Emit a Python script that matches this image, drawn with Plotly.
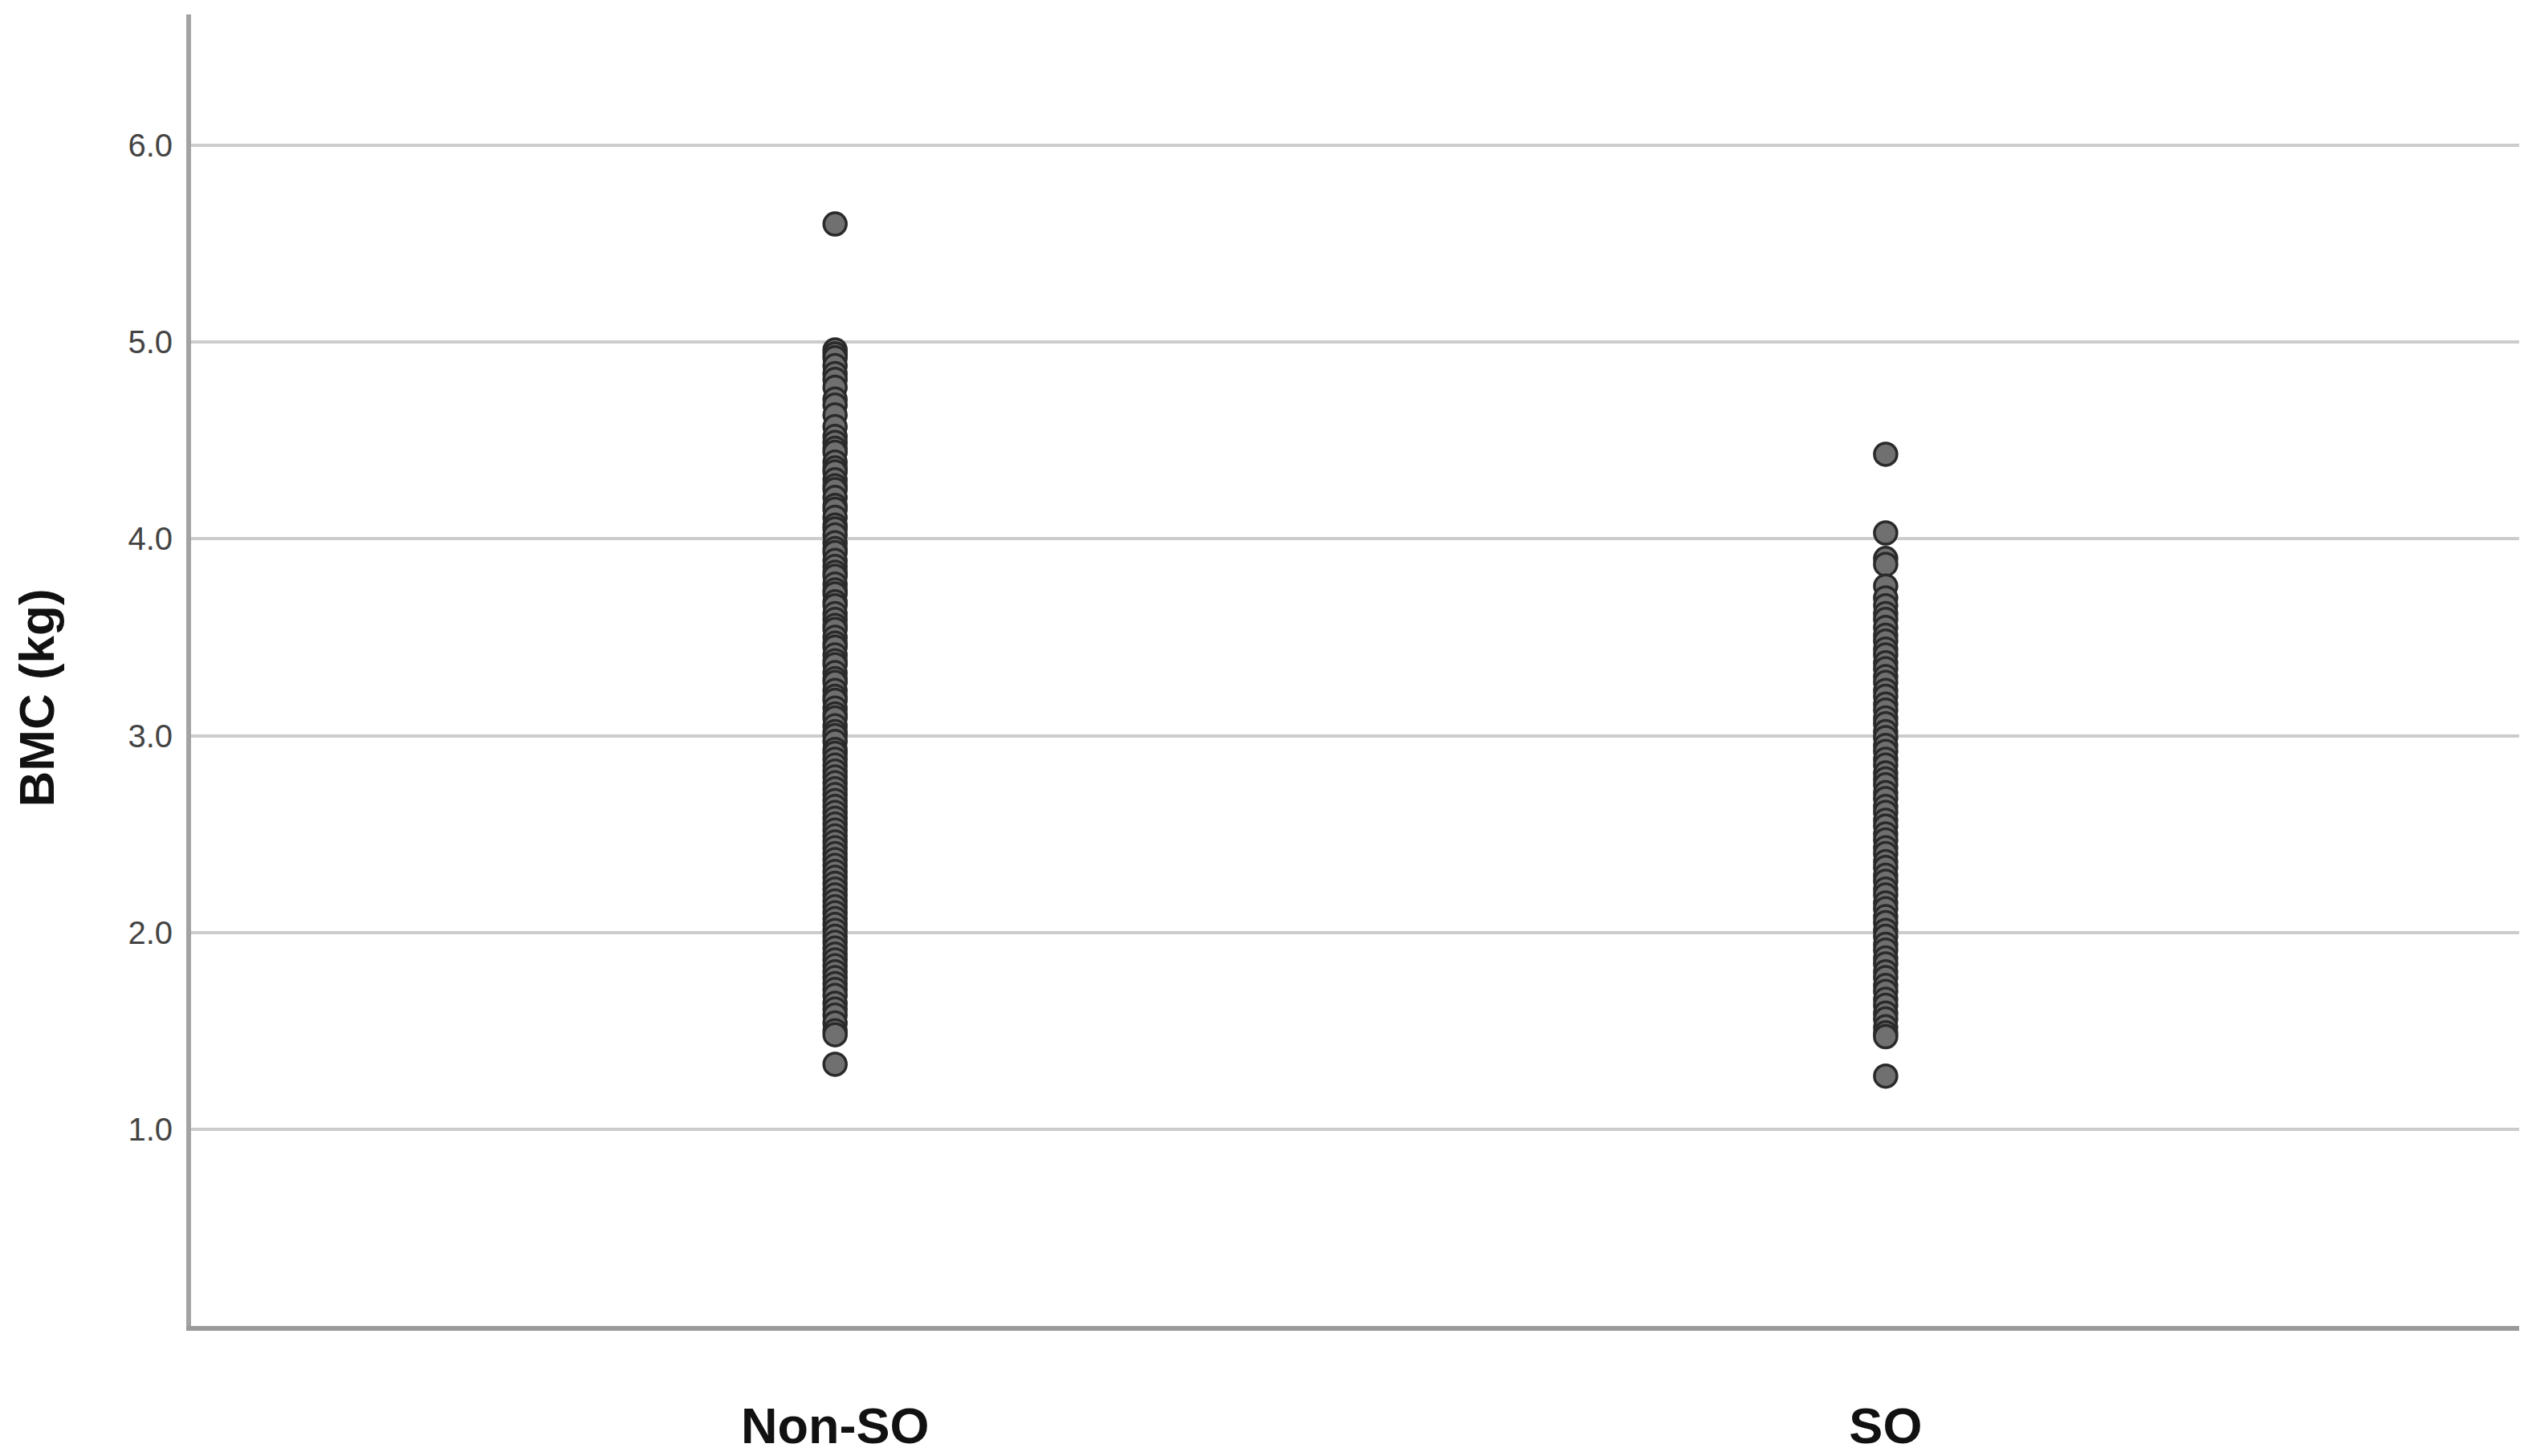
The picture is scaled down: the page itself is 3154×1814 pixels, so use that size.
import plotly.graph_objects as go

# BMC (kg) values, one list per group
groups = ["Non-SO", "SO"]

non_so_bmc = [
    5.60,
    4.96, 4.94, 4.92, 4.88, 4.84, 4.81, 4.77, 4.71, 4.68, 4.63,
    4.57, 4.52, 4.49, 4.46, 4.44, 4.39, 4.36, 4.34, 4.30, 4.27,
    4.25, 4.21, 4.17, 4.15, 4.11, 4.07, 4.05, 4.02, 3.98, 3.95,
    3.93, 3.89, 3.86, 3.83, 3.81, 3.77, 3.74, 3.72, 3.68, 3.66,
    3.62, 3.59, 3.56, 3.54, 3.50, 3.47, 3.45, 3.41, 3.38, 3.36,
    3.32, 3.29, 3.27, 3.23, 3.20, 3.18, 3.14, 3.11, 3.09, 3.05,
    3.02, 3.00, 2.97, 2.93, 2.91, 2.88, 2.85, 2.82, 2.79, 2.76,
    2.73, 2.70, 2.67, 2.64, 2.61, 2.58, 2.55, 2.52, 2.49, 2.46,
    2.43, 2.40, 2.37, 2.34, 2.31, 2.28, 2.25, 2.22, 2.19, 2.16,
    2.13, 2.10, 2.07, 2.04, 2.01, 1.98, 1.95, 1.92, 1.89, 1.86,
    1.83, 1.80, 1.77, 1.74, 1.71, 1.68, 1.64, 1.61, 1.58, 1.54,
    1.50, 1.48,
    1.33,
]

so_bmc = [
    4.43,
    4.03, 3.90, 3.87, 3.76,
    3.70, 3.66, 3.62, 3.59, 3.55, 3.51, 3.48, 3.44, 3.41, 3.37,
    3.34, 3.30, 3.27, 3.23, 3.20, 3.16, 3.13, 3.09, 3.06, 3.02,
    2.99, 2.95, 2.92, 2.88, 2.85, 2.81, 2.78, 2.75, 2.71, 2.68,
    2.64, 2.61, 2.57, 2.54, 2.50, 2.47, 2.43, 2.40, 2.36, 2.33,
    2.29, 2.26, 2.22, 2.19, 2.15, 2.12, 2.08, 2.05, 2.01, 1.98,
    1.94, 1.91, 1.87, 1.84, 1.80, 1.77, 1.73, 1.70, 1.66, 1.63,
    1.59, 1.56, 1.52, 1.49, 1.47,
    1.27,
]

y_ticks = [1.0, 2.0, 3.0, 4.0, 5.0, 6.0]

BOLD_FONT = "Liberation Sans Narrow, Liberation Sans, Arial, sans-serif"

fig = go.Figure()

for name, values in zip(groups, [non_so_bmc, so_bmc]):
    fig.add_trace(go.Scatter(
        x=[name] * len(values),
        y=values,
        mode="markers",
        marker=dict(size=28, color="#707070",
                    line=dict(color="#2a2a2a", width=3.5)),
        showlegend=False,
        hoverinfo="y",
    ))

# y title as a free annotation: in the original it sits a bit below centre
fig.add_annotation(
    text="<b>BMC (kg)</b>",
    xref="paper", yref="paper",
    x=-0.0665, y=0.479,
    xanchor="center", yanchor="middle",
    textangle=-90,
    showarrow=False,
    font=dict(size=62, color="#111111", family=BOLD_FONT),
)

fig.update_layout(
    width=3154,
    height=1814,
    paper_bgcolor="white",
    plot_bgcolor="white",
    margin=dict(l=238, r=16, t=18, b=162),
    font=dict(family="Liberation Sans, Arial, sans-serif", color="#444444"),
    xaxis=dict(
        type="category",
        categoryorder="array",
        categoryarray=groups,
        range=[-0.613, 1.603],
        automargin=False,
        showgrid=False,
        zeroline=False,
        showline=True,
        linecolor="#9a9a9a",
        linewidth=6,
        ticks="",
        ticklabelstandoff=64,
        tickfont=dict(size=63, color="#111111", family=BOLD_FONT,
                      weight="bold"),
    ),
    yaxis=dict(
        range=[0.0, 6.665],
        automargin=False,
        tickvals=y_ticks,
        ticktext=[f"{v:.1f}" for v in y_ticks],
        showgrid=True,
        gridcolor="#cccccc",
        gridwidth=4,
        zeroline=False,
        showline=True,
        linecolor="#a3a3a3",
        linewidth=6,
        ticks="",
        ticklabelstandoff=9,
        tickfont=dict(size=40, color="#444444"),
    ),
)

# drop the default 8px body margin so the figure fills the window exactly
fig.write_html(
    "out.html",
    config={"displayModeBar": False},
    post_script="document.body.style.margin='0';",
)
